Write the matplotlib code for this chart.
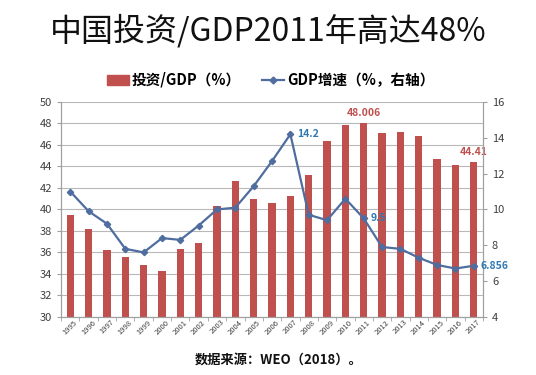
import matplotlib.pyplot as plt
from matplotlib.patches import Patch
from matplotlib.lines import Line2D
import numpy as np

plt.rcParams['font.family'] = ['Noto Sans CJK SC', 'DejaVu Sans']

years = [str(y) for y in range(1995, 2018)]
invest_gdp = [39.5, 38.2, 36.2, 35.55, 34.85, 34.3, 36.3, 36.9, 40.35, 42.65, 40.95,
              40.6, 41.25, 43.2, 46.35, 47.85, 48.006, 47.15, 47.2, 46.8, 44.7, 44.15, 44.41]
gdp_growth = [11.0, 9.9, 9.2, 7.8, 7.6, 8.4, 8.3, 9.1, 10.0, 10.1, 11.3,
              12.7, 14.2, 9.7, 9.4, 10.6, 9.5, 7.9, 7.8, 7.3, 6.9, 6.7, 6.856]

bar_color = '#c0504d'
line_color = '#4f6d9e'
label_blue = '#2f78b4'

fig = plt.figure(figsize=(5.36, 3.75), dpi=100)
ax = fig.add_axes([0.114, 0.155, 0.787, 0.573])
ax2 = ax.twinx()

x = np.arange(len(years))
ax.bar(x, invest_gdp, width=0.4, color=bar_color, zorder=2)
ax.set_ylim(30, 50)
ax.set_yticks(range(30, 51, 2))
ax.set_xlim(-0.5, len(years) - 0.5)
ax.set_xticks(x)
ax.set_xticklabels(years, rotation=45, fontsize=5.5, color='#404040')
ax.tick_params(axis='x', length=0, pad=1)
ax.set_xticks(np.arange(-0.5, len(years)), minor=True)
ax.tick_params(axis='x', which='minor', length=3, color='#a0a0a0')
ax.tick_params(axis='y', labelsize=8, colors='#404040', length=3, color='#a0a0a0')
ax.grid(axis='y', color='#b8b8b8', linewidth=0.8, zorder=0)
ax.set_axisbelow(True)

ax2.plot(x, gdp_growth, color=line_color, linewidth=1.6, marker='D', markersize=3.2, zorder=3)
ax2.set_ylim(4, 16)
ax2.set_yticks(range(4, 17, 2))
ax2.tick_params(axis='y', labelsize=8, colors='#404040', length=3, color='#a0a0a0')

for a in (ax, ax2):
    a.spines['top'].set_visible(False)
    for s in ('left', 'right', 'bottom'):
        a.spines[s].set_color('#a0a0a0')

# data labels
i11 = years.index('2011')
i17 = years.index('2017')
i07 = years.index('2007')
ax.text(i11, invest_gdp[i11] + 0.5, '48.006', color=bar_color, fontsize=7.5,
        fontweight='bold', ha='center', va='bottom')
ax.text(i17, invest_gdp[i17] + 0.5, '44.41', color=bar_color, fontsize=7.5,
        fontweight='bold', ha='center', va='bottom')
ax2.text(i07 + 0.35, gdp_growth[i07], '14.2', color=label_blue, fontsize=7.5,
         fontweight='bold', ha='left', va='center', zorder=4)
ax2.text(i11 + 0.35, gdp_growth[i11], '9.5', color=label_blue, fontsize=7.5,
         fontweight='bold', ha='left', va='center', zorder=1)
ax2.text(i17 + 0.35, gdp_growth[i17], '6.856', color=label_blue, fontsize=7.5,
         fontweight='bold', ha='left', va='center', zorder=4)

handles = [Patch(color=bar_color),
           Line2D([], [], color=line_color, marker='D', markersize=3.5, linewidth=1.6)]
fig.legend(handles, ['投资/GDP（%）', 'GDP增速（%，右轴）'], loc='center',
           bbox_to_anchor=(0.505, 0.787), ncol=2, frameon=False,
           prop={'weight': 'bold', 'size': 10.5}, handlelength=1.5,
           handletextpad=0.2, columnspacing=1.5)

fig.text(0.5, 0.918, '中国投资/GDP2011年高达48%', ha='center', va='center',
         fontsize=23, fontweight='medium', color='#111111')
fig.text(0.52, 0.04, '数据来源：WEO（2018）。', ha='center', va='center',
         fontsize=9.5, fontweight='bold', color='#111111')

fig.savefig('out.png', dpi=100)
